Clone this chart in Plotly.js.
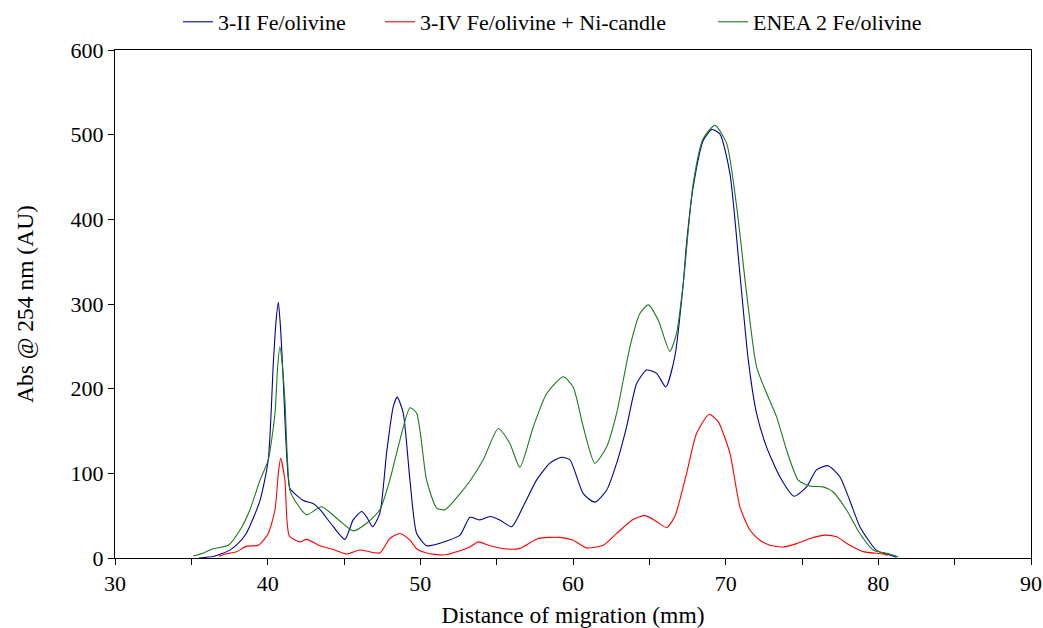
<!DOCTYPE html>
<html>
<head>
<meta charset="utf-8">
<script src="https://cdn.plot.ly/plotly-3.0.1.min.js"></script>
<style>html,body{margin:0;padding:0;background:#fff;}#chart{width:1043px;height:628px;}</style>
</head>
<body>
<div id="chart"></div>
<script>
var seriesNames = ["3-II Fe/olivine", "3-IV Fe/olivine + Ni-candle", "ENEA 2 Fe/olivine"];

var blueX = [35.5, 36.5, 37.5, 38.0, 38.6, 39.5, 40.04, 40.37, 40.55, 40.70, 40.85, 41.02, 41.25, 41.46, 41.9, 42.33, 43.0, 43.43, 44.3, 45.06, 45.6, 46.16, 46.5, 46.88, 47.35, 47.79, 48.23, 48.49, 48.88, 49.32, 49.76, 50.41, 51.0, 51.72, 52.6, 53.25, 53.9, 54.56, 55.2, 55.98, 56.74, 57.61, 58.49, 59.25, 59.8, 60.67, 61.43, 62.2, 62.86, 63.51, 64.17, 64.82, 65.48, 66.08, 66.67, 67.22, 67.44, 67.87, 68.53, 69.08, 69.62, 70.28, 70.93, 71.48, 72.02, 72.68, 73.55, 74.47, 75.3, 75.95, 76.71, 77.48, 78.13, 78.79, 79.88, 80.5, 81.19];
var blueY = [0, 2, 9, 16, 29, 68, 116, 230, 280, 302, 270, 210, 120, 82, 74, 68, 64, 57, 37, 22, 45, 55, 48, 37, 53, 124, 179, 190, 171, 92, 29, 14.5, 16, 20, 27, 48, 45, 49, 45, 37, 61, 92, 112, 119, 116, 76, 66, 80, 112, 155, 206, 222, 218, 202, 238, 324, 372, 438, 493, 506, 501, 454, 336, 234, 171, 131, 96, 73, 84, 104, 109, 96, 68, 37, 9, 5, 1];

var redX = [36.8, 37.31, 37.97, 38.62, 39.38, 40.04, 40.48, 40.7, 40.85, 41.13, 41.42, 42.11, 42.55, 43.43, 44.3, 45.17, 46.05, 47.35, 48.0, 48.66, 49.32, 49.76, 50.41, 51.5, 52.6, 53.25, 53.79, 54.56, 55.65, 56.52, 57.72, 59.14, 60.01, 60.89, 61.98, 62.86, 63.95, 64.71, 65.48, 66.13, 66.67, 67.44, 68.09, 68.92, 69.51, 70.28, 70.93, 71.59, 72.24, 72.9, 73.77, 74.64, 75.52, 76.5, 77.26, 78.13, 79.0, 80.31, 80.6];
var redY = [2, 5, 7.5, 14, 15, 29, 57, 100, 117.7, 92, 26, 19, 22, 14.5, 10, 4.7, 9.4, 6, 23, 29, 21, 11, 6, 3.5, 8.6, 13, 19, 14.5, 10.6, 11.4, 23, 24.4, 21, 12, 15, 29, 45.7, 50, 43, 35.8, 49, 100, 147, 169.7, 161, 123.6, 60.6, 33, 21, 15, 13, 17, 23, 27, 25, 15, 7.5, 4.7, 3];

var greenX = [35.13, 35.8, 36.44, 37.42, 38.19, 38.84, 39.5, 40.04, 40.48, 40.65, 40.8, 40.95, 41.13, 41.46, 41.9, 42.55, 43.53, 44.52, 45.61, 46.48, 47.35, 48.0, 48.66, 49.32, 49.76, 50.41, 51.07, 51.61, 52.6, 53.25, 54.12, 55.1, 55.87, 56.52, 57.4, 58.27, 59.36, 60.01, 60.67, 61.43, 62.2, 62.86, 63.73, 64.39, 64.93, 65.58, 66.34, 66.78, 67.22, 67.87, 68.53, 69.3, 70.06, 70.72, 71.37, 72.02, 72.68, 73.33, 73.99, 74.75, 75.52, 76.39, 77.04, 77.91, 78.79, 79.66, 80.75, 81.3];
var greenY = [2.4, 6, 11, 15, 33, 57, 92, 116, 171, 225, 249.5, 230, 187, 80, 64.6, 51, 60.6, 47, 32, 41, 57, 92, 139, 177.5, 171, 92, 59, 57, 76, 91, 116, 153, 135, 107, 155, 194, 214, 202, 155, 112, 131, 171, 249.5, 289, 299, 281, 244, 265, 324, 442, 495.5, 511, 490, 415, 312.5, 226, 194.5, 167, 127.5, 92, 85, 84, 78, 57, 29, 9.5, 4.7, 1.5];

var xTickVals = [30, 40, 50, 60, 70, 80, 90];
var yTickVals = [0, 100, 200, 300, 400, 500, 600];

var serif = 'Liberation Serif';
var traces = [
  {x: blueX, y: blueY, name: seriesNames[0], legend: 'legend', type: 'scatter', mode: 'lines', line: {color: '#00009c', width: 1.1, shape: 'spline', smoothing: 0.6}},
  {x: redX, y: redY, name: seriesNames[1], legend: 'legend2', type: 'scatter', mode: 'lines', line: {color: '#ff0000', width: 1.1, shape: 'spline', smoothing: 0.6}},
  {x: greenX, y: greenY, name: seriesNames[2], legend: 'legend3', type: 'scatter', mode: 'lines', line: {color: '#1a7a1a', width: 1.1, shape: 'spline', smoothing: 0.6}}
];

function legendAt(xp) {
  return {orientation: 'h', x: xp, xanchor: 'left', y: 0.965, yref: 'container', yanchor: 'middle',
          font: {family: serif, size: 22, color: '#000'}, itemwidth: 30, bgcolor: 'rgba(0,0,0,0)', borderwidth: 0};
}

var layout = {
  width: 1043, height: 628,
  margin: {l: 115, r: 12, t: 50, b: 70},
  paper_bgcolor: '#fff', plot_bgcolor: '#fff',
  font: {family: serif, size: 22, color: '#000'},
  showlegend: true,
  legend: legendAt(0.0688),
  legend2: legendAt(0.2893),
  legend3: legendAt(0.6528),
  xaxis: {
    range: [30, 90], tickvals: xTickVals, ticktext: xTickVals.map(String),
    ticks: 'outside', ticklen: 6, tickwidth: 1, tickcolor: '#000',
    minor: {dtick: 5, tick0: 30, ticks: 'outside', ticklen: 6, tickwidth: 1, tickcolor: '#000', showgrid: false},
    showgrid: false, zeroline: false, showline: true, linecolor: '#000', linewidth: 1, mirror: true,
    tickfont: {family: serif, size: 22}, automargin: false,
    title: {text: 'Distance of migration (mm)', font: {family: serif, size: 23.5}, standoff: 12}
  },
  yaxis: {
    range: [0, 600], tickvals: yTickVals, ticktext: yTickVals.map(String),
    ticks: 'outside', ticklen: 6, tickwidth: 1, tickcolor: '#000',
    showgrid: false, zeroline: false, showline: true, linecolor: '#000', linewidth: 1, mirror: true,
    tickfont: {family: serif, size: 22}, automargin: false,
    title: {text: 'Abs @ 254 nm (AU)', font: {family: serif, size: 23.5}, standoff: 30}
  }
};

Plotly.newPlot('chart', traces, layout, {displayModeBar: false, staticPlot: true});
</script>
</body>
</html>
